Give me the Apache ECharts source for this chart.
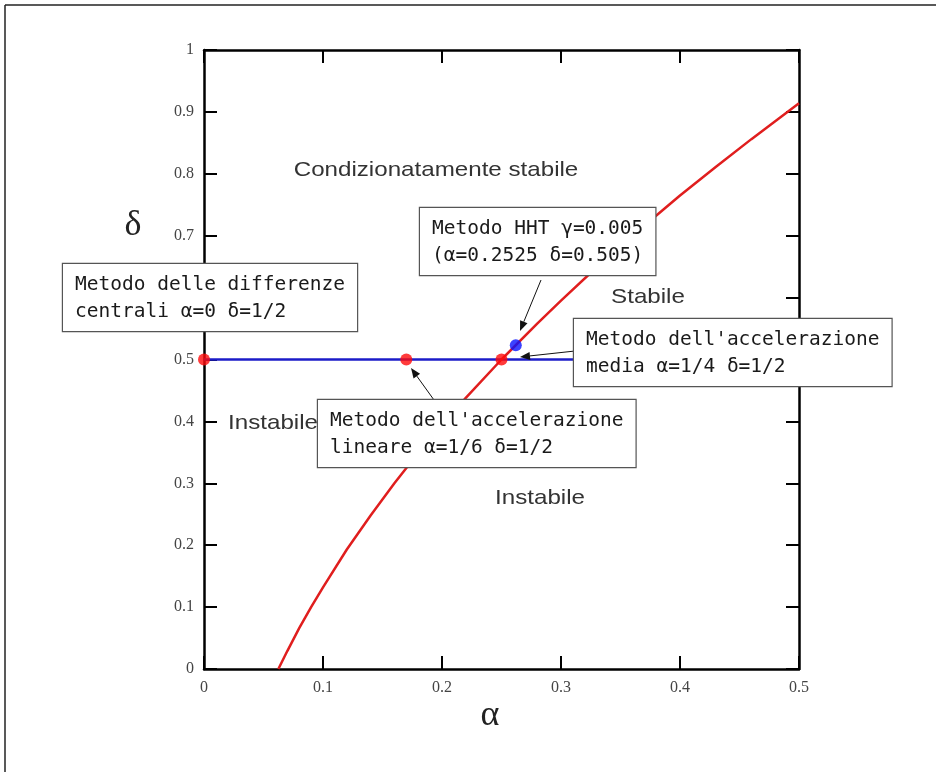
<!DOCTYPE html>
<html>
<head>
<meta charset="utf-8">
<script src="https://cdn.jsdelivr.net/npm/echarts@6/dist/echarts.min.js"></script>
<style>
html,body{margin:0;padding:0;background:#fff;}
#main{width:936px;height:772px;}
</style>
</head>
<body>
<div id="main"></div>
<script>
// Stability boundary (red curve)
var boundaryAlpha = [0.0625, 0.07, 0.08, 0.09, 0.1, 0.12, 0.14, 0.16, 0.18, 0.2, 0.22, 0.25, 0.28, 0.3, 0.33, 0.36, 0.4, 0.43, 0.46, 0.5];
var boundaryDelta = [0, 0.029, 0.066, 0.1, 0.132, 0.193, 0.248, 0.3, 0.349, 0.394, 0.438, 0.5, 0.558, 0.595, 0.649, 0.7, 0.765, 0.811, 0.856, 0.914];
// Blue horizontal line delta = 1/2
var lineAlpha = [0, 0.5];
var lineDelta = [0.5, 0.5];
// Red method points
var methodAlpha = [0, 0.17, 0.25];
var methodDelta = [0.5, 0.5, 0.5];
// HHT point (blue) as drawn
var hhtAlpha = [0.262];
var hhtDelta = [0.523];
// ticks
var xTicks = ['0', '0.1', '0.2', '0.3', '0.4', '0.5'];
var yTicks = ['0', '0.1', '0.2', '0.3', '0.4', '0.5', '0.6', '0.7', '0.8', '0.9', '1'];
var axisTitles = ['\u03b1', '\u03b4'];
// annotations
var annotations = [
  'Metodo delle differenze\ncentrali \u03b1=0 \u03b4=1/2',
  'Metodo dell\'accelerazione\nlineare \u03b1=1/6 \u03b4=1/2',
  'Metodo HHT \u03b3=0.005\n(\u03b1=0.2525 \u03b4=0.505)',
  'Metodo dell\'accelerazione\nmedia \u03b1=1/4 \u03b4=1/2'
];
var regionLabels = ['Condizionatamente stabile', 'Stabile', 'Instabile', 'Instabile'];

function zip(a, b) { return a.map(function (v, i) { return [v, b[i]]; }); }

var chart = echarts.init(document.getElementById('main'), null, {renderer: 'canvas'});

var axisLineStyle = {color: '#000', width: 2.5};
var tickStyle = {show: true, inside: true, length: 13, lineStyle: {color: '#000', width: 2}};
var labelStyle = {color: '#444', fontFamily: 'Liberation Serif', fontSize: 16};

var option = {
  animation: false,
  backgroundColor: '#fff',
  grid: {left: 204, right: 137, top: 50, bottom: 103, show: false},
  xAxis: [
    {type: 'value', min: 0, max: 0.5, interval: 0.1, position: 'bottom',
     axisLine: {show: true, onZero: false, lineStyle: axisLineStyle}, axisTick: tickStyle, splitLine: {show: false},
     axisLabel: Object.assign({margin: 11, formatter: function (v, i) { return xTicks[i]; }}, labelStyle)},
    {type: 'value', min: 0, max: 0.5, interval: 0.1, position: 'top',
     axisLine: {show: true, onZero: false, lineStyle: axisLineStyle}, axisTick: tickStyle, splitLine: {show: false},
     axisLabel: {show: false}}
  ],
  yAxis: [
    {type: 'value', min: 0, max: 1, interval: 0.1, position: 'left',
     axisLine: {show: true, onZero: false, lineStyle: axisLineStyle}, axisTick: tickStyle, splitLine: {show: false},
     axisLabel: Object.assign({margin: 10, formatter: function (v, i) { return yTicks[i]; }}, labelStyle)},
    {type: 'value', min: 0, max: 1, interval: 0.1, position: 'right',
     axisLine: {show: true, onZero: false, lineStyle: axisLineStyle}, axisTick: tickStyle, splitLine: {show: false},
     axisLabel: {show: false}}
  ],
  series: [
    {type: 'line', name: 'boundary', data: zip(boundaryAlpha, boundaryDelta), showSymbol: false,
     lineStyle: {color: '#e01e1e', width: 2.5}, z: 3},
    {type: 'line', name: 'delta half', data: zip(lineAlpha, lineDelta), showSymbol: false,
     lineStyle: {color: '#1c1cc8', width: 2.5}, z: 2},
    {type: 'scatter', name: 'methods', data: zip(methodAlpha, methodDelta), symbolSize: 12,
     itemStyle: {color: '#ff0a0a'}, z: 5},
    {type: 'scatter', name: 'HHT', data: zip(hhtAlpha, hhtDelta), symbolSize: 12,
     itemStyle: {color: '#0a14ff'}, z: 5}
  ]
};
chart.setOption(option);

var monoFont = '19.5px "DejaVu Sans Mono"';
function box(x, y, text) {
  return {type: 'text', x: x, y: y, z: 100,
    style: {text: text, font: monoFont, fill: '#1a1a1a', lineHeight: 27,
      backgroundColor: '#fff', borderColor: '#555', borderWidth: 1.2, padding: [7, 12, 6, 12]}};
}
function region(x, y, text) {
  return {type: 'text', x: x, y: y, z: 50, scaleX: 1.15, originX: 0, originY: 0,
    style: {text: text, font: '21px "Liberation Sans"', fill: '#333', textAlign: 'center', textVerticalAlign: 'middle'}};
}
function title(x, y, text) {
  return {type: 'text', x: x, y: y, z: 50,
    style: {text: text, font: '36px "Liberation Serif"', fill: '#222', textAlign: 'center', textVerticalAlign: 'middle'}};
}
function arrow(x1, y1, x2, y2) {
  var ang = Math.atan2(y2 - y1, x2 - x1), L = 10, W = 4;
  var bx = x2 - L * Math.cos(ang), by = y2 - L * Math.sin(ang);
  var px = -Math.sin(ang) * W, py = Math.cos(ang) * W;
  return [
    {type: 'line', z: 90, shape: {x1: x1, y1: y1, x2: bx, y2: by}, style: {stroke: '#111', lineWidth: 1}},
    {type: 'polygon', z: 90, shape: {points: [[x2, y2], [bx + px, by + py], [bx - px, by - py]]}, style: {fill: '#111'}}
  ];
}

var graphics = [
  {type: 'line', shape: {x1: 5, y1: 5, x2: 936, y2: 5}, style: {stroke: '#222', lineWidth: 1.5}},
  {type: 'line', shape: {x1: 5, y1: 5, x2: 5, y2: 772}, style: {stroke: '#222', lineWidth: 1.5}},
  title(490, 716, axisTitles[0]),
  title(133, 226, axisTitles[1]),
  region(436, 170, regionLabels[0]),
  region(648, 297, regionLabels[1]),
  region(273, 423, regionLabels[2]),
  region(540, 498, regionLabels[3]),
  box(63, 264, annotations[0]),
  box(318, 400, annotations[1]),
  box(420, 208, annotations[2]),
  box(574, 319, annotations[3])
];
graphics = graphics.concat(arrow(541, 280, 520, 331));
graphics = graphics.concat(arrow(575, 351, 520, 357));
graphics = graphics.concat(arrow(434, 400, 411, 368));

chart.setOption({graphic: graphics});
</script>
</body>
</html>
